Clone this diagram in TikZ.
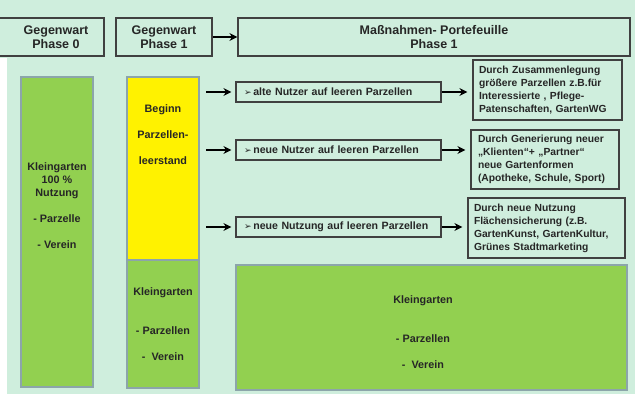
\documentclass[tikz,border=0pt]{standalone}
\usepackage{fontspec}
\setmainfont{Liberation Sans}
\newfontfamily\symfont{DejaVu Sans}
\usetikzlibrary{arrows.meta}
\definecolor{bgmint}{RGB}{207,238,221}
\definecolor{kgreen}{RGB}{146,208,80}
\definecolor{kframe}{RGB}{140,165,170}
\definecolor{txtgray}{RGB}{38,38,38}
\definecolor{linegray}{RGB}{64,64,64}
\newcommand{\zeiger}{{\symfont\fontsize{9}{9}\selectfont ➢}\,}

\begin{document}
\begin{tikzpicture}[x=1pt, y=-1pt,
    hdr/.style={draw=linegray, line width=1.2pt, inner sep=0pt, align=center,
      text=txtgray, font=\fontsize{12.5}{13.5}\selectfont\bfseries},
    kgbox/.style={draw=kframe, line width=2pt, fill=kgreen, inner sep=0pt},
    kgtext/.style={align=center, text=txtgray, font=\fontsize{10.8}{13}\selectfont\bfseries},
    usebox/.style={draw=linegray, line width=1.2pt, inner xsep=8pt, inner ysep=0pt,
      text width=189pt, minimum height=20pt, align=left, text=txtgray,
      font=\fontsize{10.6}{13}\selectfont\bfseries},
    durchbox/.style={draw=linegray, line width=1.2pt, inner xsep=6pt, inner ysep=0pt,
      align=left, text=txtgray, font=\fontsize{10.3}{13}\selectfont\bfseries},
    arr/.style={-{Stealth[length=8pt, width=8pt]}, line width=2pt}]
    %background
    \useasboundingbox (0,0) rectangle (635,394);
    \fill[bgmint] (0,0) rectangle (635,394);
    \fill[white] (0,58) rectangle (7,394);
    %header
    \draw[linegray, line width=1.2pt] (-6,18) rectangle (104,56);
    \node[hdr, draw=none] (ph0) at (56,37) {Gegenwart\\Phase 0};
    \node[hdr, minimum width=96pt, minimum height=38pt] (ph1) at (164,37) {Gegenwart\\Phase 1};
    \node[hdr, minimum width=392pt, minimum height=38pt] (mass) at (434,37) {Maßnahmen- Portefeuille\\Phase 1};
    \draw[arr] (ph1.east) -- (mass.west);
    %phase 0 column
    \node[kgbox, minimum width=72pt, minimum height=310pt] (col0) at (57,232) {};
    \node[kgtext] (col0txt) at (57,206) {Kleingarten\\100 \%\\Nutzung\\[13pt]- Parzelle\\[13pt]- Verein};
    %phase 1 column
    \node[draw=kframe, line width=2pt, fill=yellow, inner sep=0pt, minimum width=72pt,
      minimum height=183pt] (yel) at (163,168.5) {};
    \node[kgtext] (yeltxt) at (163,135) {Beginn\\[13pt]Parzellen-\\[13pt]leerstand};
    \node[kgbox, minimum width=72pt, minimum height=128pt, kgtext] (kg1) at (163,324)
      {Kleingarten\\[26pt]- Parzellen\\[13pt]-~~Verein};
    %measures
    \node[usebox] (a1) at (338.5,92) {\zeiger alte Nutzer auf leeren Parzellen};
    \node[usebox] (a2) at (338.5,150) {\zeiger neue Nutzer auf leeren Parzellen};
    \node[usebox] (a3) at (338.5,227) {\zeiger neue Nutzung auf leeren Parzellen};
    \node[durchbox, text width=137pt, minimum height=60pt] (r1) at (547.5,90)
      {Durch Zusammenlegung\\größere Parzellen z.B.für\\Interessierte , Pflege-\\Patenschaften, GartenWG};
    \node[durchbox, inner xsep=7pt, text width=134pt, minimum height=59pt] (r2) at (545,159.5)
      {Durch Generierung neuer\\„Klienten“+ „Partner“\\neue Gartenformen\\(Apotheke, Schule, Sport)};
    \node[durchbox, text width=145pt, minimum height=60pt] (r3) at (546.5,228)
      {Durch neue Nutzung\\Flächensicherung (z.B.\\GartenKunst, GartenKultur,\\Grünes Stadtmarketing};
    %arrows
    \foreach \a/\r in {a1/r1, a2/r2, a3/r3}{
      \draw[arr, shorten >=4pt] (yel.east |- \a.west) ++(6pt,0) -- (\a.west);
      \draw[arr, shorten >=5pt] (\a.east) -- (\a.east -| \r.west);
    }
    %future garden
    \node[kgbox, minimum width=391pt, minimum height=125pt] (kg2) at (431.5,327.5) {};
    \node[kgtext] (kg2txt) at (423,332.5) {Kleingarten\\[26pt]- Parzellen\\[13pt]-~~Verein};
\end{tikzpicture}
\end{document}
